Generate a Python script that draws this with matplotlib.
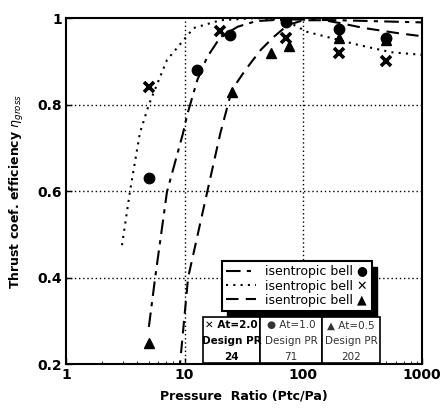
import matplotlib
matplotlib.use("Agg")
import matplotlib.pyplot as plt
from matplotlib.patches import Rectangle
from matplotlib.transforms import IdentityTransform

plt.rcParams['font.family'] = ['DejaVu Sans']

# measured points
x_pr_x = [5, 20, 71, 200, 500]
x_eta_x = [0.84, 0.97, 0.955, 0.92, 0.90]
c_pr = [5, 12.8, 24, 71, 200, 500]
c_eta = [0.63, 0.88, 0.96, 0.99, 0.975, 0.955]
t_pr = [5, 25, 53, 75, 200, 500]
t_eta = [0.25, 0.83, 0.92, 0.935, 0.955, 0.95]

# isentropic bell curves
dd_pr = [5.0, 5.65, 7.1, 9.7, 10.5, 12.8, 15.5, 20, 28, 40, 70, 200, 1000]
dd_eta = [0.286, 0.40, 0.598, 0.734, 0.776, 0.857, 0.91, 0.956, 0.98, 0.993, 0.997, 0.995, 0.99]
dot_pr = [2.97, 3.47, 4.2, 5.0, 7.1, 11.9, 20, 40, 70, 108, 290, 550, 1000]
dot_eta = [0.475, 0.6, 0.734, 0.8, 0.903, 0.977, 0.995, 1.0, 0.995, 0.968, 0.938, 0.921, 0.915]
da_pr = [9.0, 10.7, 15.5, 20, 25, 32.5, 43.6, 56, 74, 100, 150, 207, 325, 630, 1000]
da_eta = [0.18, 0.40, 0.598, 0.734, 0.834, 0.88, 0.926, 0.956, 0.984, 0.995, 0.995, 0.988, 0.977, 0.965, 0.958]

legend_labels = ["isentropic bell \u25CF", "isentropic bell \u2715", "isentropic bell \u25B2"]
box_texts = [("\u2715 At=2.0", "Design PR", "24"),
             ("\u25CF At=1.0", "Design PR", "71"),
             ("\u25B2 At=0.5", "Design PR", "202")]

fig = plt.figure(figsize=(4.42, 4.11), dpi=100)
ax = fig.add_axes([0.149, 0.114, 0.806, 0.842])
ax.set_xscale('log')
ax.set_xlim(1, 1000)
ax.set_ylim(0.2, 1.0)

lw = 1.5
l1, = ax.plot(dd_pr, dd_eta, color='k', lw=lw, ls=(0, (7, 3, 2, 3)))
l2, = ax.plot(dot_pr, dot_eta, color='k', lw=lw, ls=(0, (1, 2.5)))
l3, = ax.plot(da_pr, da_eta, color='k', lw=lw, ls=(0, (6, 3.5)))

ax.plot(x_pr_x, x_eta_x, ls='none', marker='x', color='k', ms=7.5, mew=2.6)
ax.plot(c_pr, c_eta, ls='none', marker='o', color='k', ms=7.5)
ax.plot(t_pr, t_eta, ls='none', marker='^', color='k', ms=7.5)

for v in [10, 100]:
    ax.axvline(v, color='k', ls=(0, (1, 2)), lw=1.0, zorder=1)
for v in [0.4, 0.6, 0.8]:
    ax.axhline(v, color='k', ls=(0, (1, 2)), lw=1.0, zorder=1)

ax.set_xticks([1, 10, 100, 1000])
ax.set_xticklabels(["1", "10", "100", "1000"])
ax.set_yticks([0.2, 0.4, 0.6, 0.8, 1.0])
ax.set_yticklabels(["0.2", "0.4", "0.6", "0.8", "1"])
ax.tick_params(axis='both', which='major', direction='in', length=4, width=1,
               labelsize=10, pad=3)
ax.tick_params(axis='both', which='minor', direction='in', length=2)
for lab in ax.get_xticklabels() + ax.get_yticklabels():
    lab.set_fontweight('bold')
for s in ax.spines.values():
    s.set_linewidth(1.5)

ax.set_xlabel("Pressure  Ratio (Ptc/Pa)", fontsize=9, fontweight='bold', labelpad=5)
ax.set_ylabel(r"Thrust coef. efficiency $\eta_{gross}$", fontsize=9,
              fontweight='bold', labelpad=8)

leg = ax.legend([l1, l2, l3], legend_labels, loc='lower left',
                bbox_to_anchor=(0.42, 0.135), fontsize=9, handlelength=2.4,
                handletextpad=0.7, borderpad=0.35, labelspacing=0.1,
                fancybox=False, framealpha=1, edgecolor='k')
leg.get_frame().set_linewidth(1.5)
leg.set_zorder(6)

fig.canvas.draw()
bb = leg.get_window_extent()
ax.add_patch(Rectangle((bb.x0 + 5, bb.y0 - 6), bb.width, bb.height,
                       transform=IdentityTransform(), facecolor='k',
                       edgecolor='k', zorder=5.5, clip_on=False))

xs = [0.385, 0.545, 0.719, 0.882]
y0, y1 = 0.004, 0.137
colors = ['k', '#333333', '#333333']
weights = ['bold', 'normal', 'normal']
for i, (t1, t2, t3) in enumerate(box_texts):
    ax.add_patch(Rectangle((xs[i], y0), xs[i + 1] - xs[i], y1 - y0,
                           transform=ax.transAxes, facecolor='white',
                           edgecolor='k', lw=1.2, zorder=7))
    cx = (xs[i] + xs[i + 1]) / 2
    ax.text(cx, y1 - 0.025, t1, transform=ax.transAxes, ha='center', va='center',
            fontsize=7.5, fontweight=weights[i], color=colors[i], zorder=8)
    ax.text(cx, y1 - 0.07, t2, transform=ax.transAxes, ha='center', va='center',
            fontsize=7.5, fontweight=weights[i], color=colors[i], zorder=8)
    ax.text(cx, y1 - 0.115, t3, transform=ax.transAxes, ha='center', va='center',
            fontsize=7.5, fontweight=weights[i], color=colors[i], zorder=8)

fig.savefig("out.png", dpi=100)
